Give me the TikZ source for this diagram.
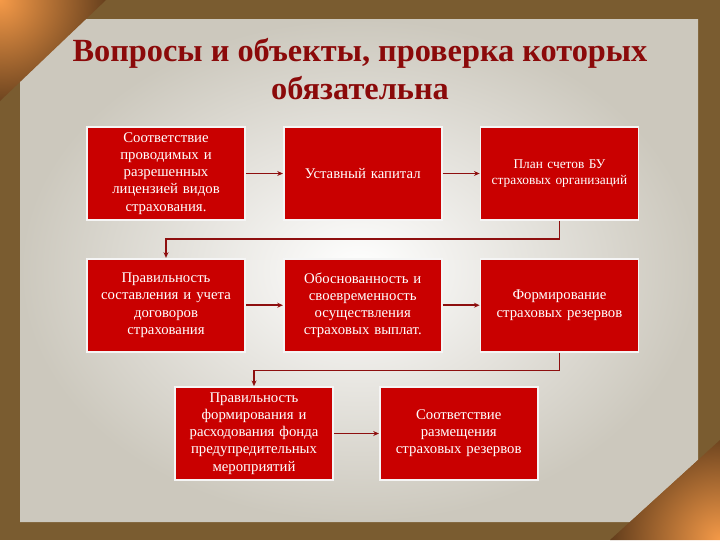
\documentclass[tikz,border=0pt]{standalone}
\usepackage{fontspec}
\setmainfont{Liberation Serif}
\usepackage{tikz}
\usetikzlibrary{positioning,arrows.meta}
\usepackage{xcolor}
\definecolor{frameBrown}{HTML}{7A5C30}
\definecolor{curlOrange}{HTML}{F59A48}
\definecolor{curlDark}{HTML}{3A2410}
\definecolor{paperGray}{HTML}{CCC8BD}
\definecolor{boxRed}{HTML}{C90000}
\definecolor{titleRed}{HTML}{8B0A0A}
\definecolor{lineRed}{HTML}{8E0F0F}

\begin{document}
\begin{tikzpicture}[
    x=0.025cm, y=-0.025cm,
    boxStyle/.style={
        rectangle, draw=white!92!gray, line width=1.2pt, fill=boxRed,
        text=white, minimum width=3.95cm, minimum height=2.325cm,
        text width=3.8cm, align=center, inner sep=2pt,
        font=\fontsize{10.5}{12.2}\selectfont
    },
    titleStyle/.style={
        font=\fontsize{23}{27.5}\selectfont\bfseries, text=titleRed, align=center
    },
    arrowStyle/.style={-{Stealth[length=4pt,width=3.5pt]}, line width=1pt, draw=lineRed}
]
    % Background
    \useasboundingbox (0,0) rectangle (720,540);
    \fill[frameBrown] (0,0) rectangle (720,540);
    \shade[inner color=white, outer color=paperGray]
        (85,19) -- (698,19) -- (698,460) -- (630,522) -- (20,522) -- (20,81) -- cycle;
    % Page curls
    \begin{scope}
        \clip (0,0) -- (106,0) -- (0,101) -- cycle;
        \shade[inner color=curlOrange, outer color=curlDark] (0,0) circle (140);
    \end{scope}
    \begin{scope}
        \clip (720,440) -- (720,540) -- (610,540) -- cycle;
        \shade[inner color=curlOrange, outer color=curlDark] (720,540) circle (140);
    \end{scope}

    % Header
    \node[titleStyle] (top) at (360,69) {Вопросы и объекты, проверка которых\\обязательна};

    % Upper row
    \node[boxStyle] (b1) at (166,173.5) {Соответствие\\проводимых и\\разрешенных\\лицензией видов\\страхования.};
    \node[boxStyle, right=0.925cm of b1] (b2) {Уставный капитал};
    \node[boxStyle, right=0.925cm of b2, font=\fontsize{9.5}{11.5}\selectfont] (b3) {План счетов БУ\\страховых организаций};

    % Middle row
    \node[boxStyle, below=0.925cm of b1] (b4) {Правильность\\составления и учета\\договоров\\страхования};
    \node[boxStyle, right=0.925cm of b4] (b5) {Обоснованность и\\своевременность\\осуществления\\страховых выплат.};
    \node[boxStyle, right=0.925cm of b5] (b6) {Формирование\\страховых резервов};

    % Lower row
    \node[boxStyle] (b7) at (254,433.5) {Правильность\\формирования и\\расходования фонда\\предупредительных\\мероприятий};
    \node[boxStyle, right=1.125cm of b7] (b8) {Соответствие\\размещения\\страховых резервов};

    % Arrows
    \draw[arrowStyle, line width=0.6pt] (b1) -- (b2);
    \draw[arrowStyle, line width=0.6pt] (b2) -- (b3);
    \draw[arrowStyle] (b3.south) -- ++(0,-0.45cm) -| (b4.north);
    \draw[arrowStyle, line width=1.4pt] (b4) -- (b5);
    \draw[arrowStyle, line width=1.4pt] (b5) -- (b6);
    \draw[arrowStyle] (b6.south) -- ++(0,-0.45cm) -| (b7.north);
    \draw[arrowStyle, line width=1.4pt] (b7) -- (b8);
\end{tikzpicture}
\end{document}
